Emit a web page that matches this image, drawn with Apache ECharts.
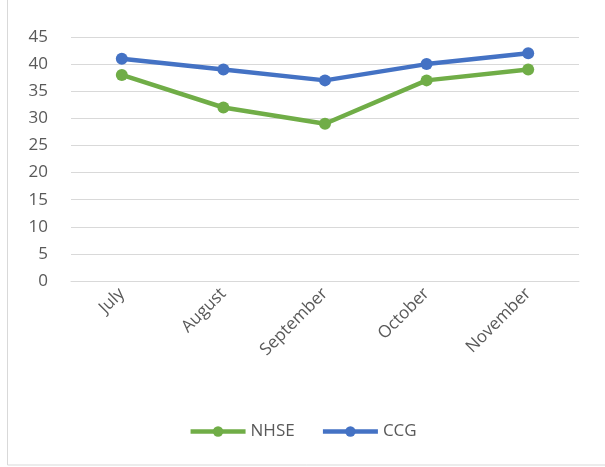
<!DOCTYPE html>
<html>
<head>
<meta charset="utf-8">
<script src="https://cdn.jsdelivr.net/npm/echarts@6/dist/echarts.min.js"></script>
<style>
  html, body { margin: 0; padding: 0; background: #fff; }
  #chart { width: 605px; height: 467px; }
</style>
</head>
<body>
<div id="chart"></div>
<script>
// 数据
const months = ["July", "August", "September", "October", "November"];
const nhse = [38, 32, 29, 37, 39];
const ccg = [41, 39, 37, 40, 42];

const labelFont = "'Open Sans', 'Liberation Sans', sans-serif";

const myChart = echarts.init(document.getElementById("chart"));
const option = {
  animation: false,
  graphic: [
    {
      type: "rect",
      shape: { x: 7.5, y: -2, width: 600, height: 467 },
      style: { fill: "none", stroke: "#d9d9d9", lineWidth: 1 },
      silent: true,
    },
  ],
  grid: {
    left: 71,
    right: 26,
    top: 37,
    bottom: 186,
  },
  legend: {
    bottom: 22,
    left: "center",
    itemWidth: 55,
    itemHeight: 13,
    itemGap: 26,
    lineStyle: { width: 4.5 },
    textStyle: { color: "#595959", fontSize: 17, fontFamily: labelFont },
    data: ["NHSE", "CCG"],
  },
  xAxis: {
    type: "category",
    data: months,
    axisLine: { show: true, lineStyle: { color: "#d9d9d9" } },
    axisTick: { show: false },
    axisLabel: {
      rotate: 45,
      color: "#595959",
      fontSize: 17,
      fontFamily: labelFont,
      margin: 10,
    },
  },
  yAxis: {
    type: "value",
    min: 0,
    max: 45,
    interval: 5,
    axisLine: { show: false },
    axisTick: { show: false },
    splitLine: { lineStyle: { color: "#d9d9d9", width: 1 } },
    axisLabel: {
      color: "#595959",
      fontSize: 17,
      fontFamily: labelFont,
      margin: 23,
    },
  },
  series: [
    {
      name: "NHSE",
      type: "line",
      data: nhse,
      symbol: "circle",
      symbolSize: 12,
      color: "#70ad47",
      lineStyle: { width: 4.5 },
    },
    {
      name: "CCG",
      type: "line",
      data: ccg,
      symbol: "circle",
      symbolSize: 12,
      color: "#4472c4",
      lineStyle: { width: 4.5 },
    },
  ],
};
myChart.setOption(option, true);
</script>
</body>
</html>
